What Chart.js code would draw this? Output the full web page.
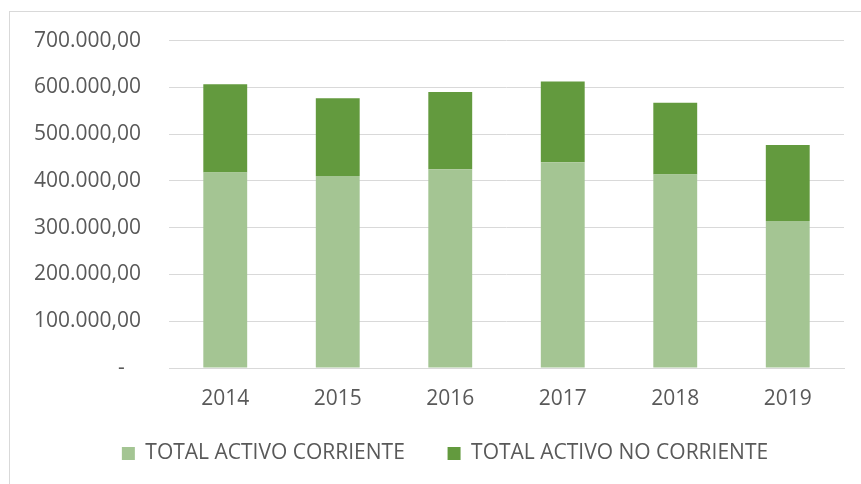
<!DOCTYPE html>
<html>
<head>
<meta charset="utf-8">
<script src="https://cdn.jsdelivr.net/npm/chart.js@4"></script>
<style>
    body { margin: 0; background: #fff; overflow: hidden; }
    #wrap { position: relative; width: 861px; height: 484px; }
    #frame { position: absolute; left: 9px; top: 11px; width: 900px; height: 500px; border: 1px solid #d9d9d9; }
    canvas { position: absolute; left: 0; top: 0; }
</style>
</head>
<body>
<div id="wrap">
    <div id="frame"></div>
    <canvas id="activoChart" width="861" height="484"></canvas>
</div>
<script>
// Values
const years = ['2014', '2015', '2016', '2017', '2018', '2019'];
const activoCorriente = [418000, 410700, 425000, 440000, 413700, 314300];
const activoNoCorriente = [188500, 165800, 165000, 172800, 153300, 162700];
const yTicks = [0, 100000, 200000, 300000, 400000, 500000, 600000, 700000];

const textColor = '#595959';
const gridColor = '#d9d9d9';

function formatTick(value) {
    if (value === 0) {
        return '-   ';
    }
    const parts = Math.round(value).toString().replace(/\B(?=(\d{3})+(?!\d))/g, '.');
    return parts + ',00';
}

// Excel centres the legend a bit to the right of the canvas middle
const legendShift = {
    id: 'legendShift',
    beforeDraw: function (chart) {
        if (chart.legend) {
            chart.legend.left = 46;
        }
    }
};

const ctx = document.getElementById('activoChart').getContext('2d');

new Chart(ctx, {
    type: 'bar',
    data: {
        labels: years,
        datasets: [{
            label: 'TOTAL ACTIVO CORRIENTE',
            data: activoCorriente,
            backgroundColor: '#a4c593',
            borderWidth: 0
        }, {
            label: 'TOTAL ACTIVO NO CORRIENTE',
            data: activoNoCorriente,
            backgroundColor: '#639a3e',
            borderWidth: 0
        }]
    },
    options: {
        responsive: false,
        animation: false,
        layout: {
            padding: { top: 32, right: 17, left: 0, bottom: 10 }
        },
        datasets: {
            bar: {
                categoryPercentage: 1,
                barPercentage: 0.39
            }
        },
        scales: {
            x: {
                stacked: true,
                grid: { display: false },
                border: { color: gridColor, width: 1 },
                ticks: {
                    color: textColor,
                    font: { family: 'Open Sans', size: 21 },
                    padding: 10
                },
                afterFit: function (scale) {
                    scale.height = 65;
                }
            },
            y: {
                stacked: true,
                min: 0,
                max: 700000,
                afterBuildTicks: function (scale) {
                    scale.ticks = yTicks.map(v => ({ value: v }));
                },
                grid: { color: gridColor, lineWidth: 1, drawTicks: false },
                border: { display: false },
                ticks: {
                    color: textColor,
                    font: { family: 'Open Sans', size: 21 },
                    padding: 28,
                    callback: formatTick
                },
                afterFit: function (scale) {
                    scale.width = 169;
                }
            }
        },
        plugins: {
            tooltip: { enabled: false },
            legend: {
                position: 'bottom',
                labels: {
                    color: textColor,
                    font: { family: 'Open Sans', size: 21 },
                    boxWidth: 13,
                    boxHeight: 13,
                    padding: 10,
                    generateLabels: function (chart) {
                        const items = Chart.defaults.plugins.legend.labels.generateLabels(chart);
                        // Excel leaves a wide gap between the two entries
                        items[0].text = items[0].text + '      ';
                        return items;
                    }
                }
            }
        }
    },
    plugins: [legendShift]
});
</script>
</body>
</html>
